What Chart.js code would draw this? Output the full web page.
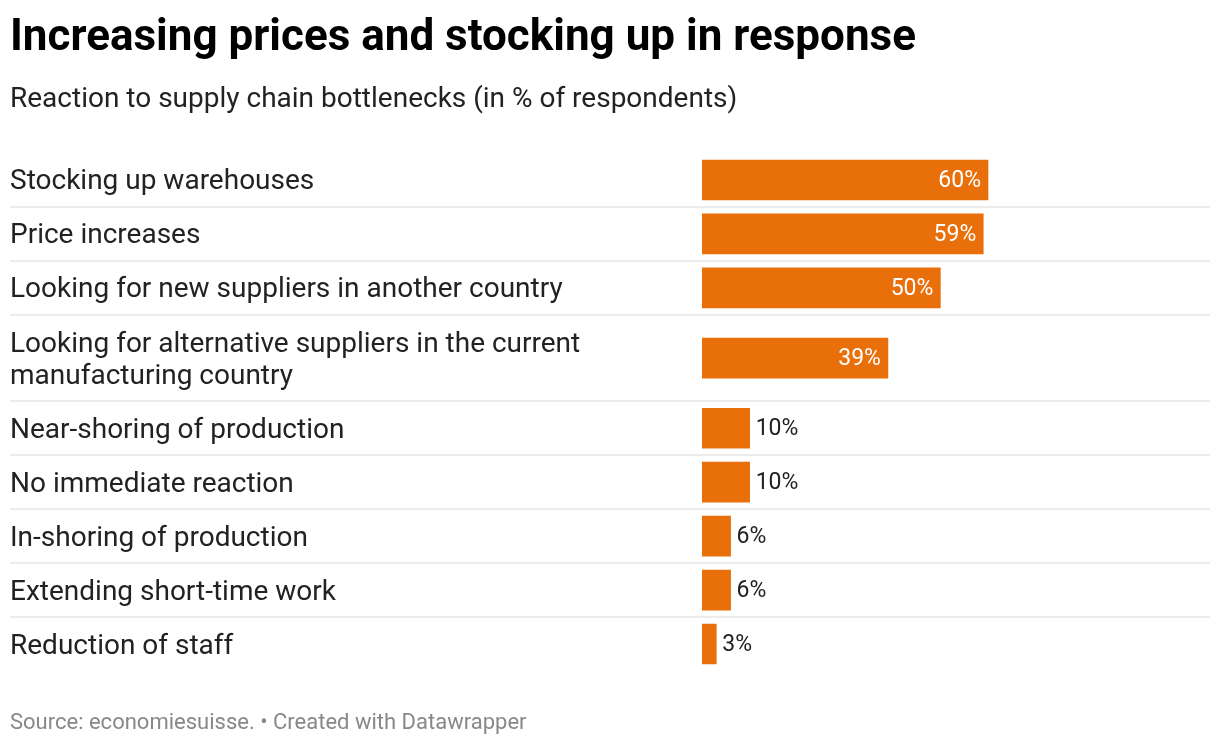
<!DOCTYPE html>
<html>
<head>
<meta charset="utf-8">
<script src="https://cdn.jsdelivr.net/npm/chart.js@4.4.1/dist/chart.umd.min.js"></script>
<style>
  html, body { margin: 0; padding: 0; background: #fff; }
  body { width: 1220px; height: 746px; position: relative; overflow: hidden; font-family: Roboto, "Noto Sans", sans-serif; }
  .txt { position: absolute; left: 10px; white-space: nowrap; }
  #title { top: 13px; font-size: 44px; line-height: 44px; font-weight: 700; color: #000; }
  #subtitle { top: 83.5px; font-size: 28px; line-height: 28px; color: #222; }
  #footer { top: 710.5px; font-size: 22px; line-height: 22px; color: #888; }
  #chartBox { position: absolute; left: 0; top: 0; width: 1220px; height: 746px; }
  #chart { display: block; }
</style>
</head>
<body>
<div id="chartBox"><canvas id="chart" width="1220" height="746"></canvas></div>
<div class="txt" id="title">Increasing prices and stocking up in response</div>
<div class="txt" id="subtitle">Reaction to supply chain bottlenecks (in % of respondents)</div>
<div class="txt" id="footer">Source: economiesuisse. • Created with Datawrapper</div>
<script>
// ---- data ----
const categories = [
  ["Stocking up warehouses"],
  ["Price increases"],
  ["Looking for new suppliers in another country"],
  ["Looking for alternative suppliers in the current", "manufacturing country"],
  ["Near-shoring of production"],
  ["No immediate reaction"],
  ["In-shoring of production"],
  ["Extending short-time work"],
  ["Reduction of staff"]
];
const values = [60, 59, 50, 39, 10, 10, 6, 6, 3];
const valueSuffix = "%";

// ---- layout (row heights derived from label line counts) ----
const ROW_BASE = 54;
const LINE_EXTRA = 32.5;
const LINE_HEIGHT = 32;
const rowHeights = categories.map(c => ROW_BASE + (c.length - 1) * LINE_EXTRA);
const rowTops = [];
let acc = 0;
rowHeights.forEach(h => { rowTops.push(acc); acc += h; });
const totalUnits = acc;
const rowCenters = rowTops.map((t, i) => t + rowHeights[i] / 2);
const boundaries = rowTops.slice(1);

const BAR_COLOR = "#e86f0a";
const LABEL_FONT = 28;
const VALUE_FONT = 23;

const separatorPlugin = {
  id: "separators",
  beforeDatasetsDraw(chart) {
    const ctx = chart.ctx;
    const y = chart.scales.y;
    ctx.save();
    ctx.strokeStyle = "#ececec";
    ctx.lineWidth = 2;
    boundaries.forEach(b => {
      const py = Math.round(y.getPixelForValue(b));
      ctx.beginPath();
      ctx.moveTo(10, py);
      ctx.lineTo(1210, py);
      ctx.stroke();
    });
    ctx.restore();
  }
};

const categoryLabelPlugin = {
  id: "categoryLabels",
  afterDraw(chart) {
    const ctx = chart.ctx;
    const y = chart.scales.y;
    ctx.save();
    ctx.font = LABEL_FONT + "px Roboto";
    ctx.fillStyle = "#222222";
    ctx.textAlign = "left";
    ctx.textBaseline = "middle";
    categories.forEach((lines, i) => {
      const cy = y.getPixelForValue(rowCenters[i]);
      const start = cy - (lines.length - 1) * LINE_HEIGHT / 2;
      lines.forEach((ln, k) => ctx.fillText(ln, 10, start + k * LINE_HEIGHT + 2.5));
    });
    ctx.restore();
  }
};

const valueLabelPlugin = {
  id: "valueLabels",
  afterDatasetsDraw(chart) {
    const ctx = chart.ctx;
    const meta = chart.getDatasetMeta(0);
    ctx.save();
    ctx.font = VALUE_FONT + "px Roboto";
    ctx.textBaseline = "middle";
    meta.data.forEach((el, i) => {
      const text = values[i] + valueSuffix;
      const w = ctx.measureText(text).width;
      const barW = el.x - el.base;
      if (w + 16 < barW) {
        ctx.fillStyle = "#ffffff";
        ctx.textAlign = "right";
        ctx.fillText(text, el.x - 7, el.y + 1);
      } else {
        ctx.fillStyle = "#222222";
        ctx.textAlign = "left";
        ctx.fillText(text, el.x + 6, el.y + 1);
      }
    });
    ctx.restore();
  }
};

new Chart(document.getElementById("chart"), {
  type: "bar",
  data: {
    datasets: [{
      data: values.map((v, i) => ({ x: v, y: rowCenters[i] })),
      backgroundColor: BAR_COLOR,
      borderWidth: 0,
      barThickness: 40
    }]
  },
  options: {
    indexAxis: "y",
    responsive: false,
    maintainAspectRatio: false,
    animation: false,
    events: [],
    layout: { padding: { top: 153, bottom: 75, left: 702, right: 41.3 } },
    plugins: { legend: { display: false }, tooltip: { enabled: false } },
    scales: {
      x: { type: "linear", min: 0, max: 100, display: false, offset: false },
      y: { type: "linear", min: 0, max: totalUnits, reverse: true, display: false, offset: false, grid: { offset: false } }
    }
  },
  plugins: [separatorPlugin, valueLabelPlugin, categoryLabelPlugin]
});
</script>
</body>
</html>
